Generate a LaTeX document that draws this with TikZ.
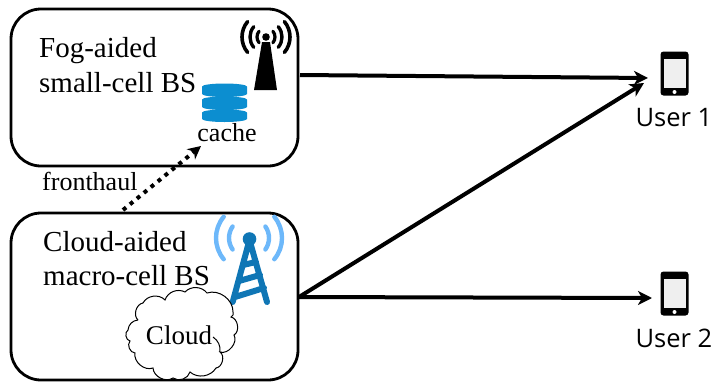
\documentclass[tikz,border=0pt]{standalone}
\usepackage{fontspec}
\setmainfont{Liberation Serif}
\newfontfamily\usrfont{Open Sans}
\usetikzlibrary{arrows.meta}
\definecolor{cacheblue}{HTML}{0C8ED0}
\definecolor{towerblue}{HTML}{0F76B5}
\definecolor{waveblue}{HTML}{6DB8FA}
\definecolor{screengrey}{HTML}{EFEFEF}
\tikzset{
  bsbox/.style={draw,line width=2.8pt,rounded corners=30pt,minimum width=287pt,inner sep=0pt},
  lab/.style={anchor=base west,inner sep=0pt,font=\fontsize{29}{29}\selectfont},
  smalllab/.style={inner sep=0pt,font=\fontsize{26}{26}\selectfont},
  userlab/.style={inner sep=0pt,font=\usrfont\fontsize{25.5}{25.5}\selectfont},
  link/.style={line width=4pt,-{Stealth[length=14pt,width=14pt,inset=4pt]}},
  dotlink/.style={line width=4pt,dash pattern=on 4pt off 5pt,-{Stealth[length=13pt,width=13pt,inset=4pt]}},
  phoneicon/.style={fill=black,rounded corners=3pt,draw=none,minimum width=28pt,minimum height=44pt,inner sep=0pt},
}
\begin{document}
\begin{tikzpicture}[x=1pt,y=-1pt]
\useasboundingbox (0,0) rectangle (712,381);
\node[bsbox,minimum height=157pt] (fog) at (154.5,87.5) {};
\node[bsbox,minimum height=167pt] (cloudbs) at (154.5,296.5) {};
\node[lab] (t1) at (39,57) {Fog-aided};
\node[lab] (t2) at (39,92) {small-cell BS};
\node[lab] (t3) at (43,251) {Cloud-aided};
\node[lab] (t4) at (43,285) {macro-cell BS};
\node[smalllab] (cachet) at (227,133) {cache};
\node[smalllab,anchor=base west] (fh) at (42,190) {fronthaul};
% black antenna
\fill[black] (262,42) -- (270,42) -- (277,90) -- (254,90) -- cycle;
\fill[black] (266,37) circle (3.8);
\foreach \r/\w in {9/3.2,16/3.4,24/3.6}{
  \draw[black,line width=\w pt,line cap=round] (266,37) ++(-140:\r) arc[start angle=-140,end angle=-220,radius=\r];
  \draw[black,line width=\w pt,line cap=round] (266,37) ++(-40:\r) arc[start angle=-40,end angle=40,radius=\r];
}
% cache stack
\foreach \t/\b in {83.5/94,96.5/107,109.5/119}{
  \fill[cacheblue] (202,\t+3) arc[x radius=22.5,y radius=3,start angle=180,end angle=360] -- (247,\b) arc[x radius=22.5,y radius=3,start angle=0,end angle=180] -- cycle;
}
% blue tower
\draw[waveblue,line width=4.4pt,line cap=round]
  (249,238) ++(-145:20) arc[start angle=-145,end angle=-215,radius=20]
  (249,238) ++(-35:20) arc[start angle=-35,end angle=35,radius=20]
  (249,238) ++(-140:33) arc[start angle=-140,end angle=-220,radius=33]
  (249,238) ++(-40:33) arc[start angle=-40,end angle=40,radius=33];
\draw[towerblue,line width=6pt,line cap=round,line join=round]
  (232.7,302) -- (249.5,240) -- (267,302)
  (243,265) -- (256,262) (239,281) -- (260,275) (235,297) -- (264,288);
\fill[towerblue] (249.5,239) circle (6.8);
% cloud
\draw[line width=1pt,fill=white]
  (138,320) to[bend left=65] (143,303) to[bend left=55] (165,300) to[bend left=50] (185,292)
  to[bend left=50] (207,293) to[bend left=55] (233,312) to[bend left=45] (231,317)
  to[bend left=70] (234,335) to[bend left=70] (220,352) to[bend left=70] (216,368)
  to[bend left=50] (190,372) to[bend left=55] (173,378) to[bend left=60] (153,368)
  to[bend left=60] (135,353) to[bend left=65] (130,341) to[bend left=70] (128,330) to[bend left=40] (138,320);
\draw[line width=1pt] (213,337) to[bend left=30] (220,352);
\node[smalllab,font=\fontsize{27}{27}\selectfont] (cloudt) at (179,335) {Cloud};
% phones
\foreach \n/\dy in {p1/0,p2/220}{
  \node[phoneicon] (\n) at (674.5,73.5+\dy) {};
  \fill[screengrey] (663.5,59+\dy) rectangle (685.5,88+\dy);
  \fill[white] (674.5,92+\dy) circle (2);
}
\node[userlab] (u1) at (674,118) {User 1};
\node[userlab] (u2) at (674,338) {User 2};
\coordinate (fogout) at (300,75);
\coordinate (cloudout) at (299,297);
\coordinate (in1a) at (648,78);
\coordinate (in1b) at (644,83);
\coordinate (in2) at (652,298);
\coordinate (dotstart) at (123,210);
\coordinate (dotend) at (201,146);
\draw[link] (fogout) -- (in1a);
\draw[link] (cloudout) -- (in1b);
\draw[link] (cloudout) -- (in2);
\draw[dotlink] (dotstart) -- (dotend);
\end{tikzpicture}
\end{document}
